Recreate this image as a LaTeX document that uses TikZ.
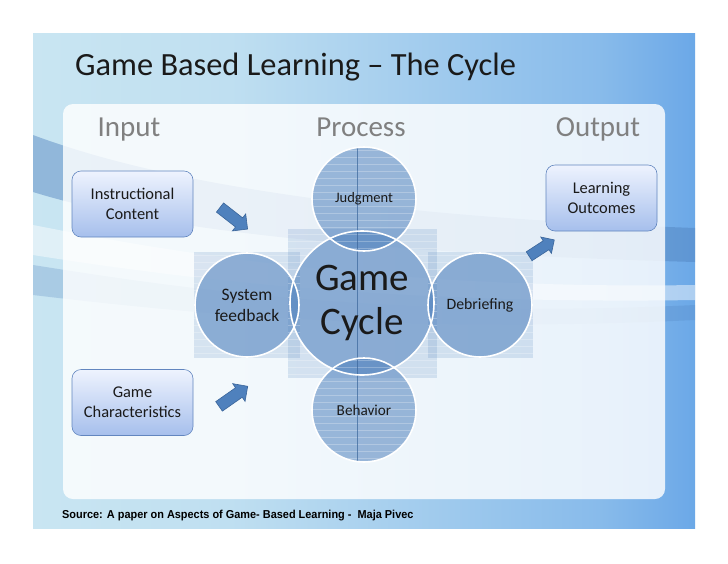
\documentclass[tikz,border=0pt]{standalone}
\usepackage{fontspec}
\setmainfont{Carlito}
\newfontfamily\srcfont{Liberation Sans}
\usetikzlibrary{shapes.arrows}
\definecolor{bgL}{HTML}{8FC3E9}
\definecolor{bgM}{HTML}{D3ECF3}
\definecolor{bgR}{HTML}{2B7EE0}
\definecolor{accent}{HTML}{4F81BD}
\definecolor{accentD}{HTML}{3A659A}
\definecolor{boxTop}{HTML}{EEF3FE}
\definecolor{boxBot}{HTML}{A6BFEC}
\definecolor{boxLine}{HTML}{6286BF}
\definecolor{hdrGray}{HTML}{808080}
\definecolor{txtDark}{HTML}{1A1A1A}
\pgfdeclarehorizontalshading{bgshade}{100bp}{color(0bp)=(bgL); color(10bp)=(bgM); color(40bp)=(bgM!88!bgR); color(68bp)=(bgM!55!bgR); color(86bp)=(bgM!12!bgR); color(100bp)=(bgR)}
\tikzset{
  inbox/.style={draw=boxLine, line width=0.6pt, rounded corners=9pt, top color=boxTop, bottom color=boxBot,
    minimum width=121pt, minimum height=66pt, align=center, font=\fontsize{16.4}{20}\selectfont, text=txtDark, inner sep=0pt},
  disc/.style={circle, fill=accent, fill opacity=0.55, draw=none, inner sep=0pt},
  discline/.style={circle, draw=white, line width=1.6pt, inner sep=0pt},
  disclabel/.style={align=center, text=txtDark, font=\fontsize{14.5}{19.5}\selectfont},
  hdr/.style={text=hdrGray, font=\fontsize{29}{32}\selectfont},
  blockarrow/.style={single arrow, fill=accent, draw=accentD, line width=0.6pt, minimum width=21pt,
    single arrow head extend=5pt, inner xsep=0pt, inner ysep=5.5pt, minimum height=35pt},
  bgsquare/.style={fill=accent, fill opacity=0.18, draw=none}
}
\begin{document}
\begin{tikzpicture}[x=1pt,y=-1pt]
\useasboundingbox (0,0) rectangle (728,563);
\fill[white] (0,0) rectangle (728,563);
% slide background
\shade[shading=bgshade] (33,33) rectangle (695,528);
% swooshes
\fill[accent, opacity=0.45] (33,135) .. controls (140,175) and (330,215) .. (695,228)
   -- (695,262) .. controls (330,252) and (140,225) .. (33,192) -- cycle;
\fill[white, opacity=0.45] (33,225) .. controls (160,250) and (380,290) .. (695,285)
   -- (695,300) .. controls (380,305) and (160,275) .. (33,255) -- cycle;
\fill[accent, opacity=0.25] (33,265) .. controls (160,285) and (380,320) .. (695,305)
   -- (695,320) .. controls (380,335) and (160,310) .. (33,295) -- cycle;
% inner panel
\fill[white, opacity=0.82, rounded corners=10pt] (63,104) rectangle (665,499);
% title
\node[anchor=base west, inner sep=0pt, text=txtDark, font=\fontsize{32.4}{36}\selectfont] (title) at (75,75) {Game Based Learning – The Cycle};
% headers
\node[hdr, anchor=base] (hin) at (129,136) {Input};
\node[hdr, anchor=base] (hproc) at (361,136) {Process};
\node[hdr, anchor=base] (hout) at (598,136) {Output};
% boxes
\node[inbox] (ic) at (132.5,204) {Instructional\\Content};
\node[inbox] (gc) at (132.5,402.5) {Game\\Characteristics};
\node[inbox, minimum width=111pt] (lo) at (601.5,198) {Learning\\Outcomes};
% background squares
\fill[bgsquare] (288,229) rectangle (437,378);
\fill[bgsquare] (194,252) rectangle (300,358);
\fill[bgsquare] (428,252) rectangle (533,358);
% discs
\node[disc, minimum size=144pt] (cyc) at (362,303) {};
\node[disc, minimum size=104pt] (jud) at (364,199) {};
\node[disc, minimum size=104pt] (beh) at (364,410) {};
\node[disc, minimum size=104pt] (sys) at (247,305) {};
\node[disc, minimum size=104pt] (deb) at (480,305) {};
% stripes
\begin{scope}
\clip (362,303) circle (72) (364,199) circle (52) (364,410) circle (52) (247,305) circle (52) (480,305) circle (52)
  (288,229) rectangle (437,378) (194,252) rectangle (300,358) (428,252) rectangle (533,358);
\foreach \yy in {150,157,...,465} \draw[white, opacity=0.25, line width=0.8pt] (190,\yy) -- (540,\yy);
\end{scope}
\draw[accentD, opacity=0.7, line width=0.5pt] (jud.north) ++(-7,0) coordinate (vt) -- (vt |- beh.south);
% outlines
\foreach \n/\s in {cyc/144, jud/104, beh/104, sys/104, deb/104}
  \node[discline, minimum size=\s pt] at (\n) {};
% labels
\node[disclabel, font=\fontsize{39}{44}\selectfont] (cyclbl) at (cyc) {Game\\Cycle};
\node[disclabel] (judlbl) at (jud) {Judgment};
\node[disclabel, font=\fontsize{15.2}{19.5}\selectfont] (behlbl) at (beh) {Behavior};
\node[disclabel, font=\fontsize{17.5}{21}\selectfont] (syslbl) at (sys) {System\\feedback};
\node[disclabel, font=\fontsize{15.8}{19.5}\selectfont] (deblbl) at (deb) {Debriefing};
% arrows
\node[blockarrow, rotate=-38] (a1) at (231.5,216.5) {};
\node[blockarrow, rotate=35] (a2) at (231,398) {};
\node[blockarrow, rotate=33, minimum height=30pt, minimum width=19pt, single arrow head extend=4.5pt, inner ysep=5pt] (a3) at (539.5,249.5) {};
% source
\node[anchor=base west, inner sep=0pt, text=black] (src) at (62,518)
  {\scalebox{0.95}[1]{\srcfont\bfseries\fontsize{11.5}{13}\selectfont Source: A paper on Aspects of Game- Based Learning -\ \ Maja Pivec}};
\end{tikzpicture}
\end{document}
